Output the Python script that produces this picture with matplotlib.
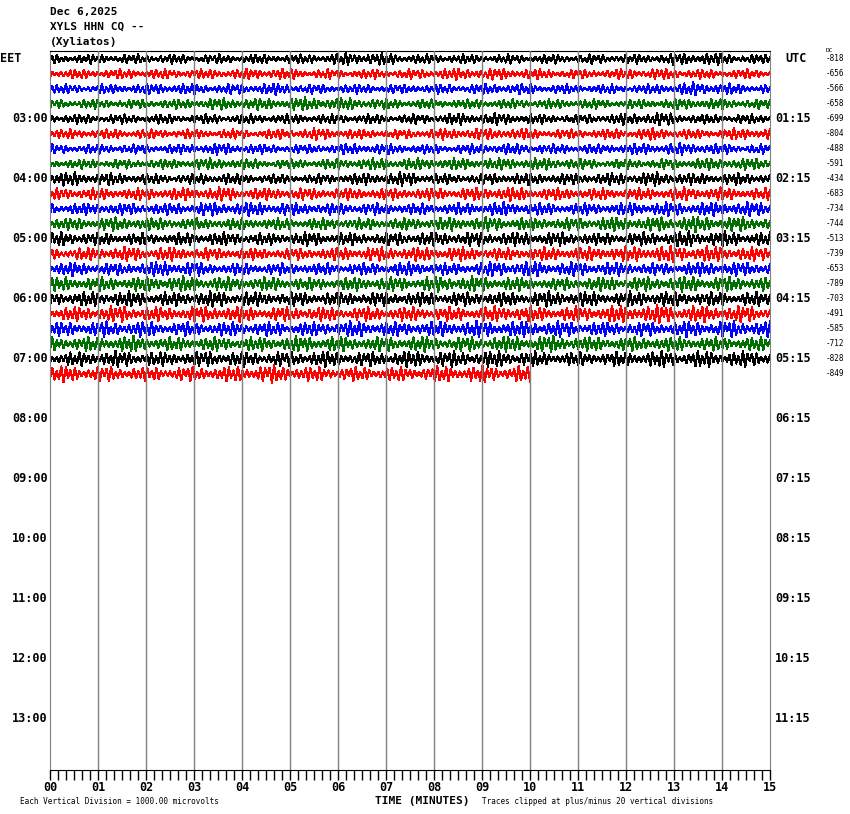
import numpy as np
import matplotlib
matplotlib.use('Agg')
import matplotlib.pyplot as plt
from matplotlib.ticker import MultipleLocator

# Header text
title_lines = ['Dec 6,2025', 'XYLS HHN CQ --', '(Xyliatos)']

# Hour labels on both sides (one every 4 rows)
eet_labels = ['03:00', '04:00', '05:00', '06:00', '07:00', '08:00',
              '09:00', '10:00', '11:00', '12:00', '13:00']
utc_labels = ['01:15', '02:15', '03:15', '04:15', '05:15', '06:15',
              '07:15', '08:15', '09:15', '10:15', '11:15']

# DC offsets printed at the right of each trace
dc_values = [-818, -656, -566, -658, -699, -804, -488, -591, -434, -683, -734,
             -744, -513, -739, -653, -789, -703, -491, -585, -712, -828, -849]

trace_colors = ['black', '#ff0000', '#0000ff', '#007000']

# Trace envelope (half amplitude, in pixels) read per minute from the picture
envelopes = [
    [4, 4, 4, 4, 4, 4, 6, 4, 4, 4, 4, 4, 4, 6, 4],
    [4, 4, 4, 4, 5, 4, 4, 4, 5, 5, 4, 4, 5, 4, 4],
    [4, 4, 5, 4, 5, 4, 4, 4, 4, 5, 4, 4, 4, 6, 4],
    [4, 4, 4, 5, 5, 6, 5, 4, 4, 4, 4, 4, 4, 5, 4],
    [4, 4, 4, 4, 4, 4, 4, 4, 5, 5, 4, 4, 6, 4, 4],
    [4, 4, 4, 4, 4, 5, 4, 4, 5, 5, 4, 4, 5, 4, 5],
    [4, 4, 4, 5, 4, 4, 5, 4, 4, 5, 4, 4, 5, 5, 4],
    [4, 4, 4, 5, 4, 4, 5, 5, 5, 5, 5, 4, 4, 5, 5],
    [6, 5, 4, 5, 4, 4, 5, 6, 4, 5, 5, 5, 6, 5, 5],
    [5, 5, 5, 6, 5, 5, 5, 5, 5, 6, 5, 5, 5, 6, 5],
    [5, 5, 5, 6, 6, 5, 5, 5, 5, 6, 5, 5, 6, 6, 6],
    [5, 6, 5, 5, 5, 5, 5, 5, 6, 6, 5, 6, 6, 7, 6],
    [6, 5, 5, 6, 5, 6, 5, 6, 6, 6, 6, 5, 6, 7, 6],
    [5, 6, 6, 5, 5, 5, 6, 6, 6, 5, 6, 6, 7, 7, 6],
    [6, 5, 7, 5, 5, 5, 5, 6, 5, 7, 6, 6, 5, 6, 6],
    [6, 6, 7, 6, 6, 5, 6, 6, 7, 6, 5, 6, 6, 7, 6],
    [6, 7, 6, 7, 6, 6, 6, 6, 6, 6, 7, 6, 7, 6, 6],
    [6, 7, 6, 7, 6, 6, 6, 6, 6, 7, 6, 7, 8, 7, 7],
    [6, 7, 6, 6, 6, 6, 7, 6, 7, 7, 7, 6, 6, 7, 7],
    [6, 7, 6, 6, 6, 7, 6, 7, 6, 7, 7, 6, 6, 6, 6],
    [6, 7, 6, 7, 6, 7, 6, 7, 7, 7, 6, 6, 7, 7, 7],
    [7, 6, 6, 6, 8, 6, 6, 6, 7, 7],
]

W, H = 850, 814
fig = plt.figure(figsize=(W / 100, H / 100), dpi=100)
ax = fig.add_axes([50 / W, (H - 770) / H, 720 / W, 719 / H])

row_px = 15.0
n_samp = 320  # samples per full 15-minute row
mono = 'DejaVu Sans Mono'

for i, env in enumerate(envelopes):
    n_min = len(env)
    n = int(n_samp * n_min / 15)
    t = np.linspace(0, n_min, n)
    k = np.arange(n)
    amp = np.interp(t, np.arange(n_min) + 0.5, env)
    wiggle = (-1.0) ** k * (0.3 + 0.9 * np.abs(np.sin(0.61 * k + 1.7 * i) * np.cos(0.17 * k + i)))
    y = i + amp * wiggle / row_px
    ax.plot(t, y, color=trace_colors[i % 4], lw=0.8, zorder=2, antialiased=False)
    ax.text(1.0778, i, str(dc_values[i]), transform=ax.get_yaxis_transform(),
            fontsize=5.5, family=mono, ha='left', va='center')

ax.text(1.0778, -0.55, 'DC', transform=ax.get_yaxis_transform(),
        fontsize=4.5, family=mono, ha='left', va='center')

# Hour labels
for j, (a, b) in enumerate(zip(eet_labels, utc_labels)):
    r = 4 + 4 * j
    ax.text(-0.003, r, a, transform=ax.get_yaxis_transform(), fontsize=8.5,
            family=mono, weight='bold', ha='right', va='center')
    ax.text(1.007, r, b, transform=ax.get_yaxis_transform(), fontsize=8.5,
            family=mono, weight='bold', ha='left', va='center')
ax.text(-0.0694, 0, 'EET', transform=ax.get_yaxis_transform(), fontsize=8.5,
        family=mono, weight='bold', ha='left', va='center')
ax.text(1.021, 0, 'UTC', transform=ax.get_yaxis_transform(), fontsize=8.5,
        family=mono, weight='bold', ha='left', va='center')

ax.set_xlim(0, 15)
ax.set_ylim(47.4, -0.533)
ax.set_yticks([])
ax.xaxis.set_minor_locator(MultipleLocator(1 / 6))
ax.set_xticks(range(16))
ax.set_xticklabels([f'{m:02d}' for m in range(16)], family=mono, weight='bold', fontsize=8.5)
ax.tick_params(axis='x', which='major', direction='out', length=7, width=1, pad=1)
ax.tick_params(axis='x', which='minor', direction='out', length=7, width=1)
for m in range(1, 15):
    ax.axvline(m, color='#808080', lw=1.0, zorder=3)
ax.spines['left'].set_color('#808080')
ax.spines['right'].set_color('#808080')
ax.spines['top'].set_color('black')
ax.spines['bottom'].set_color('black')

# Header and footer text
for j, line in enumerate(title_lines):
    fig.text(50 / W, 1 - (12 + 15 * j) / H, line, fontsize=8, family=mono,
             weight='bold', ha='left', va='center')
fig.text(422 / W, 1 - 801 / H, 'TIME (MINUTES)', fontsize=8, family=mono,
         weight='bold', ha='center', va='center')
fig.text(20 / W, 1 - 801 / H, 'Each Vertical Division = 1000.00 microvolts',
         fontsize=5.5, family=mono, ha='left', va='center')
fig.text(482 / W, 1 - 801 / H, 'Traces clipped at plus/minus 20 vertical divisions',
         fontsize=5.5, family=mono, ha='left', va='center')

fig.savefig('out.png', dpi=100)
